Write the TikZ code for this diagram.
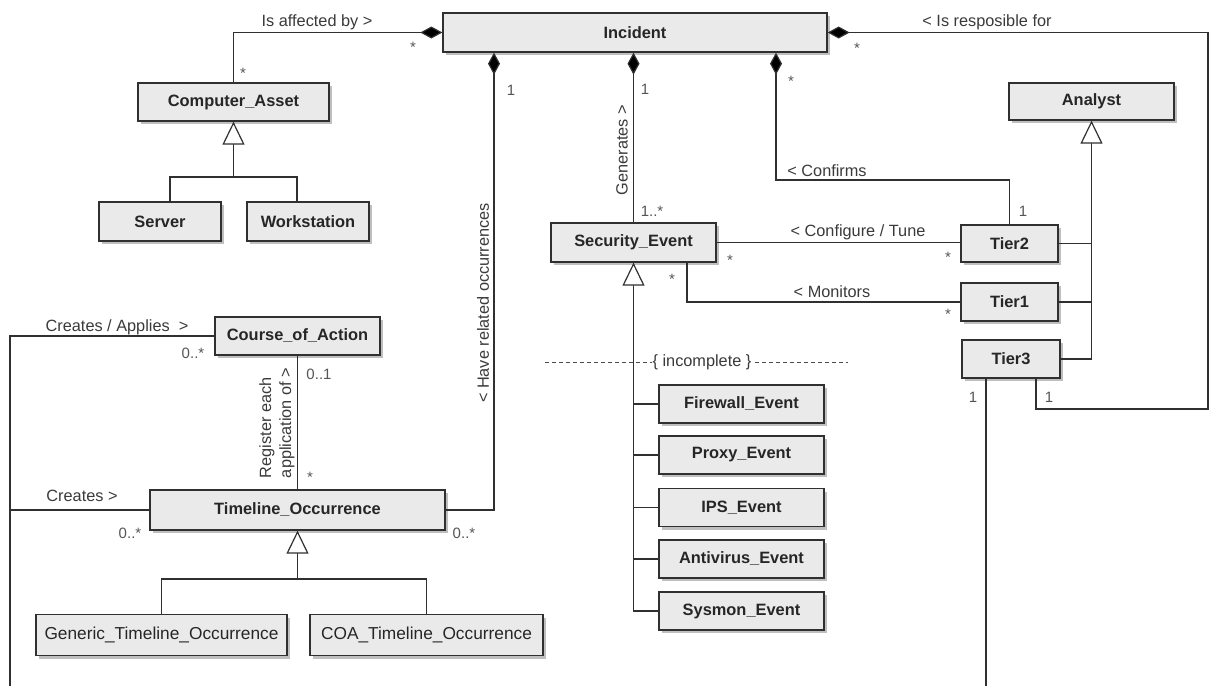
\documentclass[tikz,border=0pt]{standalone}
\usepackage{fontspec}
\setmainfont{Liberation Sans}
\usetikzlibrary{arrows.meta,shadows}
\definecolor{boxfill}{HTML}{EAEAEA}
\definecolor{edge}{HTML}{303030}
\definecolor{lbl}{HTML}{3A3A3A}
\definecolor{mult}{HTML}{555555}
\begin{document}
\begin{tikzpicture}[x=1pt,y=-1pt,
 cls/.style={draw=edge, line width=1.3pt, fill=boxfill, font=\bfseries\fontsize{16.4}{19}\selectfont, text=black!85, inner sep=0pt,
   general shadow={fill=black!25, shadow xshift=3pt, shadow yshift=-3pt}},
 clsr/.style={cls, font=\fontsize{17.3}{20}\selectfont},
 conn/.style={draw=edge, line width=1.2pt},
 comp/.style={conn, {Diamond[length=22pt,width=12pt,fill=black]}-},
 gen/.style={conn, {Triangle[open,length=23pt,width=22pt,fill=white]}-},
 lab/.style={font=\fontsize{16.3}{20}\selectfont, text=lbl, inner sep=0pt},
 mul/.style={font=\fontsize{15}{18}\selectfont, text=mult, inner sep=0pt},
]
\useasboundingbox (0,0) rectangle (1209,686);

% classes
\node[cls, minimum width=384pt, minimum height=39pt] (inc) at (635,32.5) {Incident};
\node[cls, minimum width=191pt, minimum height=38pt] (ca) at (233.5,102) {Computer\_Asset};
\node[cls, minimum width=122pt, minimum height=39pt] (srv) at (160,221.5) {Server};
\node[cls, minimum width=122pt, minimum height=39pt] (ws) at (308,221.5) {Workstation};
\node[cls, minimum width=165pt, minimum height=38pt] (coa) at (297.5,336) {Course\_of\_Action};
\node[cls, minimum width=295pt, minimum height=40pt] (to) at (297.5,510) {Timeline\_Occurrence};
\node[clsr, minimum width=251pt, minimum height=41pt] (gto) at (161.5,635) {Generic\_Timeline\_Occurrence};
\node[clsr, minimum width=233pt, minimum height=41pt] (cto) at (426.5,635) {COA\_Timeline\_Occurrence};
\node[cls, minimum width=165pt, minimum height=39pt] (se) at (633.5,242.5) {Security\_Event};
\node[cls, minimum width=165pt, minimum height=38pt] (fw) at (741.5,404) {Firewall\_Event};
\node[cls, minimum width=165pt, minimum height=38pt] (px) at (741.5,455) {Proxy\_Event};
\node[cls, minimum width=165pt, minimum height=38pt] (ips) at (741.5,507.5) {IPS\_Event};
\node[cls, minimum width=165pt, minimum height=38pt] (av) at (741.5,559) {Antivirus\_Event};
\node[cls, minimum width=165pt, minimum height=38pt] (sys) at (741.5,611) {Sysmon\_Event};
\node[cls, minimum width=165pt, minimum height=37pt] (an) at (1091.5,101.5) {Analyst};
\node[cls, minimum width=97pt, minimum height=37pt] (t2) at (1009.5,243.5) {Tier2};
\node[cls, minimum width=97pt, minimum height=38pt] (t1) at (1009.5,302) {Tier1};
\node[cls, minimum width=98pt, minimum height=38pt] (t3) at (1011,359) {Tier3};

% helper coordinates
\coordinate (x494) at (494,0);
\coordinate (x776) at (776,0);
\coordinate (c180) at (0,180);
\coordinate (rtop) at (1208,32.5);
\coordinate (rbot) at (1208,409);
\coordinate (x1036) at (1036,0);
\coordinate (x986) at (986,0);
\coordinate (bot) at (0,686);
\coordinate (lb) at (10,686);
\coordinate (x687) at (687,0);
\coordinate (cjl) at (170,177);
\coordinate (cjr) at (297,177);
\coordinate (tj) at (0,579);

% Is affected by
\draw[comp] (inc.west) -| (ca.north);
\node[lab] (l1) at (317,22) {Is affected by >};
\node[mul] (m1) at (243,73) {*};
\node[mul] (m2) at (413,47) {*};

% Have related occurrences
\draw[comp] (inc.south -| x494) |- (to.east);
\node[lab, rotate=90] (l2) at (483,303) {< Have related occurrences};
\node[mul] (m3) at (511,90) {1};
\node[mul] (m4) at (464,533) {0..*};

% Generates
\draw[comp] (inc.south -| se.north) -- (se.north);
\node[lab, rotate=90] (l3) at (622,150) {Generates >};
\node[mul] (m5) at (645,89) {1};
\node[mul] (m6) at (652,211) {1..*};

% Confirms
\draw[comp] (inc.south -| x776) -- (x776 |- c180) -| (t2.north);
\node[lab] (l4) at (827,171) {< Confirms};
\node[mul] (m7) at (791,81) {*};
\node[mul] (m8) at (1023,211) {1};

% Is responsible for
\draw[comp] (inc.east) -- (rtop) -- (rbot) -| (t3.south -| x1036);
\node[lab] (l5) at (987,22) {< Is resposible for};
\node[mul] (m9) at (857,48) {*};
\node[mul] (m10) at (1049,397) {1};

% Tier3 down
\draw[conn] (t3.south -| x986) -- (x986 |- bot);
\node[mul] (m11) at (973,397) {1};

% left creates lines
\draw[conn] (lb) |- (coa.west);
\draw[conn] (to.west) -- (to.west -| lb);
\node[lab] (l6) at (117,327) {Creates / Applies\ \ >};
\node[mul] (m12) at (193,353) {0..*};
\node[lab] (l7) at (82,496) {Creates >};
\node[mul] (m13) at (130,533) {0..*};

% Register each application of
\draw[conn] (coa.south) -- (coa.south |- to.north);
\node[lab, rotate=90, align=left, font=\fontsize{16.3}{20}\selectfont] (l8) at (277,423) {Register each\\application of >};
\node[mul] (m14) at (319,374) {0..1};
\node[mul] (m15) at (310,477) {*};

% Security event associations
\draw[conn] (se.east) -- (se.east -| t2.west);
\node[lab] (l9) at (858,232) {< Configure / Tune};
\node[mul] (m16) at (730,260) {*};
\node[mul] (m17) at (948,257) {*};
\draw[conn] (se.south -| x687) |- (t1.west);
\node[lab] (l10) at (832,292) {< Monitors};
\node[mul] (m18) at (672,279) {*};
\node[mul] (m19) at (948,314) {*};

% generalizations
\draw[gen] (ca.south) -- (ca.south |- cjl);
\draw[conn] (srv.north -| cjl) -- (cjl) -- (cjr) -- (ws.north -| cjr);

\draw[gen] (to.south) -- (to.south |- tj);
\draw[conn] (gto.north) |- (tj -| to.south) -| (cto.north);

\draw[gen] (se.south) -- (se.south |- sys.west) -- (sys.west);
\draw[conn] (se.south |- fw.west) -- (fw.west);
\draw[conn] (se.south |- px.west) -- (px.west);
\draw[conn] (se.south |- ips.west) -- (ips.west);
\draw[conn] (se.south |- av.west) -- (av.west);

\draw[gen] (an.south) -- (an.south |- t3.east) -- (t3.east);
\draw[conn] (t2.east) -- (t2.east -| an.south);
\draw[conn] (t1.east) -- (t1.east -| an.south);

% incomplete constraint
\coordinate (d1) at (545,362);
\coordinate (d2) at (848,362);
\draw[draw=black!70, line width=0.9pt, dash pattern=on 4pt off 3pt] (d1) -- (d2);
\node[lab, fill=white, inner xsep=1pt] (l11) at (702,362) {\{ incomplete \}};
\end{tikzpicture}
\end{document}
